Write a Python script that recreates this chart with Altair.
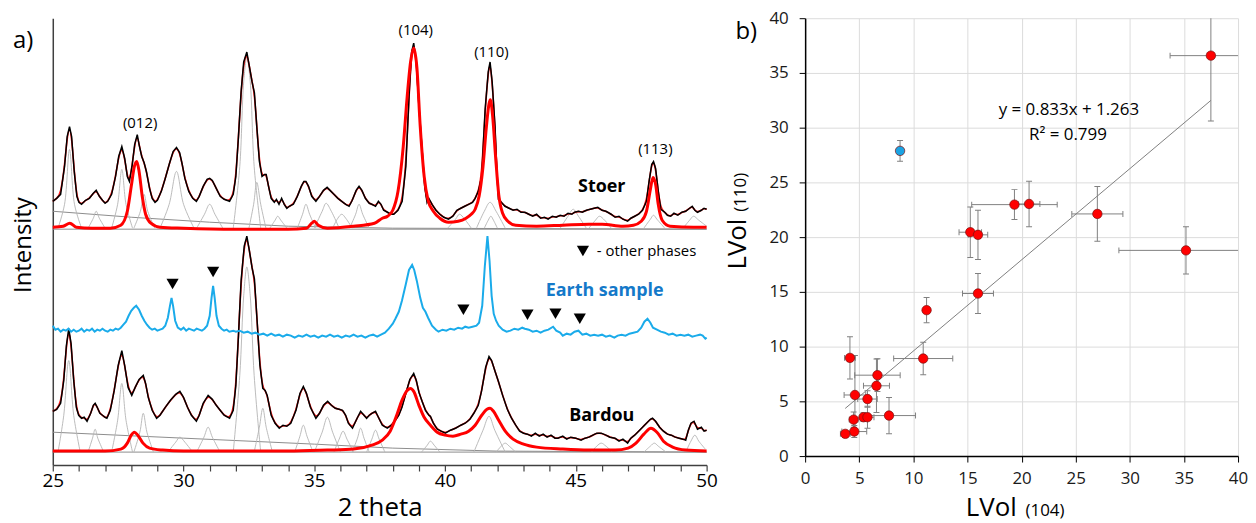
import altair as alt
import pandas as pd

FONT = "Open Sans"

# ---------------- panel a) : XRD patterns (2 theta, intensity in arbitrary units) ----------------
STOER = [(25.00, 265), (25.15, 268), (25.30, 272), (25.45, 300), (25.55, 330), (25.64, 340), (25.72, 330),
         (25.82, 295), (25.92, 270), (26.00, 264), (26.10, 262), (26.25, 266), (26.40, 268), (26.55, 273),
         (26.66, 276), (26.78, 270), (26.90, 266), (27.00, 263), (27.10, 265), (27.25, 272), (27.40, 290),
         (27.52, 310), (27.64, 320), (27.75, 308), (27.85, 290), (27.93, 285), (28.03, 300), (28.13, 322),
         (28.23, 332), (28.30, 322), (28.40, 310), (28.49, 304), (28.58, 295), (28.70, 278), (28.80, 268),
         (28.91, 264), (29.00, 266), (29.15, 275), (29.30, 288), (29.45, 302), (29.60, 315), (29.73, 319),
         (29.85, 314), (29.95, 302), (30.05, 288), (30.20, 275), (30.35, 268), (30.49, 265), (30.60, 270),
         (30.75, 280), (30.90, 287), (31.00, 288), (31.10, 286), (31.25, 278), (31.40, 270), (31.55, 267),
         (31.76, 265), (31.90, 272), (32.00, 290), (32.10, 330), (32.20, 375), (32.30, 405), (32.42, 415),
         (32.52, 400), (32.62, 385), (32.71, 374), (32.80, 340), (32.90, 305), (33.00, 290), (33.10, 292),
         (33.16, 292), (33.25, 280), (33.35, 268), (33.47, 264), (33.55, 267), (33.65, 262), (33.75, 268),
         (33.85, 262), (33.95, 258), (34.04, 260), (34.20, 262), (34.35, 270), (34.50, 280), (34.60, 285),
         (34.68, 285), (34.78, 280), (34.90, 270), (35.06, 265), (35.20, 270), (35.35, 276), (35.49, 279),
         (35.60, 276), (35.75, 272), (35.90, 268), (36.05, 265), (36.20, 262), (36.33, 260), (36.45, 266),
         (36.60, 276), (36.71, 280), (36.82, 276), (36.95, 268), (37.10, 263), (37.20, 262), (37.34, 260),
         (37.45, 265), (37.55, 262), (37.65, 256), (37.80, 254), (37.92, 252), (38.04, 252), (38.20, 256),
         (38.36, 265), (38.50, 300), (38.62, 370), (38.72, 415), (38.80, 424), (38.90, 405), (39.00, 360),
         (39.12, 317), (39.22, 280), (39.31, 264), (39.38, 268), (39.50, 262), (39.65, 256), (39.80, 252),
         (39.95, 249), (40.13, 247), (40.30, 250), (40.45, 256), (40.60, 258), (40.75, 260), (40.90, 262),
         (41.05, 264), (41.15, 268), (41.27, 275), (41.40, 290), (41.53, 357), (41.65, 395), (41.72, 405),
         (41.80, 385), (41.91, 340), (41.98, 295), (42.04, 267), (42.15, 264), (42.29, 260), (42.45, 258),
         (42.60, 256), (42.75, 257), (42.90, 254), (43.05, 254), (43.20, 252), (43.35, 250), (43.50, 252),
         (43.65, 248), (43.80, 249), (43.94, 247), (44.10, 250), (44.25, 249), (44.40, 251), (44.55, 250),
         (44.70, 253), (44.85, 252), (44.95, 254), (45.10, 255), (45.25, 254), (45.40, 256), (45.55, 257),
         (45.70, 258), (45.84, 259), (46.00, 256), (46.15, 255), (46.35, 252), (46.50, 249), (46.65, 250),
         (46.80, 247), (46.98, 245), (47.10, 248), (47.25, 250), (47.40, 252), (47.55, 256), (47.70, 265),
         (47.80, 285), (47.90, 302), (47.97, 305), (48.05, 298), (48.15, 275), (48.25, 257), (48.40, 254),
         (48.50, 251), (48.63, 250), (48.75, 253), (48.90, 251), (49.05, 254), (49.20, 255), (49.35, 258),
         (49.45, 260), (49.55, 256), (49.65, 254), (49.80, 256), (49.90, 258), (50.00, 257)]

STOER_CALCITE = [(25.0, 239), (25.4, 240), (25.65, 243), (25.9, 239), (26.5, 238), (27.2, 238), (27.6, 241),
                 (27.85, 255), (28.0, 280), (28.12, 300), (28.21, 305), (28.3, 295), (28.42, 270), (28.55, 252),
                 (28.75, 243), (29.1, 239), (30.0, 238), (32.0, 237), (34.0, 237), (34.7, 238), (34.9, 243),
                 (35.0, 245), (35.15, 241), (35.5, 238), (36.5, 240), (37.3, 243), (37.6, 248), (37.8, 250),
                 (38.0, 256), (38.2, 275), (38.4, 320), (38.55, 370), (38.68, 405), (38.8, 419), (38.92, 400),
                 (39.05, 340), (39.2, 290), (39.35, 266), (39.55, 255), (39.8, 248), (40.13, 244), (40.5, 245),
                 (40.8, 248), (41.0, 252), (41.15, 257), (41.3, 270), (41.45, 300), (41.58, 340), (41.68, 363),
                 (41.73, 367), (41.82, 350), (41.93, 310), (42.05, 272), (42.2, 253), (42.4, 245), (42.7, 241),
                 (43.5, 240), (44.5, 241), (45.5, 242), (46.0, 242), (46.8, 240), (47.2, 241), (47.5, 245),
                 (47.7, 255), (47.85, 277), (47.95, 289), (48.05, 282), (48.15, 262), (48.3, 246), (48.6, 240),
                 (49.5, 239), (50.0, 239)]

STOER_BACKGROUND = [[(25, 255), (28, 249), (31, 244), (34, 240), (38, 238), (50, 237)],
                    [(25, 237), (50, 237)]]

STOER_COMPONENTS = [
    [(25.2, 238), (25.45, 262), (25.64, 317), (25.83, 262), (26.1, 238)],
    [(26.35, 238), (26.55, 248), (26.66, 255), (26.78, 248), (27.0, 238)],
    [(27.25, 238), (27.48, 262), (27.64, 297), (27.8, 262), (28.05, 238)],
    [(28.1, 238), (28.35, 255), (28.49, 272), (28.63, 255), (28.9, 238)],
    [(29.1, 238), (29.45, 262), (29.73, 295), (30.0, 262), (30.4, 238)],
    [(30.5, 238), (30.8, 252), (31.0, 262), (31.2, 252), (31.5, 238)],
    [(31.9, 238), (32.15, 300), (32.3, 385), (32.42, 410), (32.55, 385), (32.7, 300), (32.95, 238)],
    [(32.5, 238), (32.68, 262), (32.8, 284), (32.95, 262), (33.15, 238)],
    [(33.3, 238), (33.5, 246), (33.6, 250), (33.72, 246), (33.95, 238)],
    [(34.35, 238), (34.55, 252), (34.68, 262), (34.82, 252), (35.05, 238)],
    [(35.0, 238), (35.3, 255), (35.45, 263), (35.65, 255), (35.95, 238)],
    [(35.7, 238), (35.9, 248), (36.05, 252), (36.2, 248), (36.45, 238)],
    [(36.35, 238), (36.58, 252), (36.71, 262), (36.85, 252), (37.1, 238)],
    [(40.1, 238), (40.4, 247), (40.55, 252), (40.75, 247), (41.0, 238)],
    [(41.2, 238), (41.5, 255), (41.72, 264), (41.95, 255), (42.3, 238)],
    [(41.5, 238), (41.65, 246), (41.75, 250), (41.85, 246), (42.0, 238)],
    [(44.4, 238), (44.7, 250), (44.9, 257), (45.1, 250), (45.4, 238)],
    [(45.5, 238), (45.75, 246), (45.9, 250), (46.1, 246), (46.35, 238)],
    [(47.6, 238), (47.85, 247), (47.97, 251), (48.1, 247), (48.4, 238)],
    [(49.1, 238), (49.35, 246), (49.5, 250), (49.7, 246), (50.0, 240)],
]

EARTH = [(25.0, 140), (25.1, 136), (25.2, 137), (25.3, 134), (25.4, 136), (25.5, 135), (25.6, 137), (25.7, 134),
         (25.8, 136), (25.9, 134), (26.0, 135), (26.1, 137), (26.2, 134), (26.3, 136), (26.4, 135), (26.5, 137),
         (26.6, 134), (26.7, 136), (26.8, 135), (26.9, 137), (27.0, 135), (27.1, 134), (27.2, 136), (27.3, 135),
         (27.4, 137), (27.5, 136), (27.6, 138), (27.7, 141), (27.8, 144), (27.9, 150), (28.0, 155), (28.1, 158),
         (28.19, 160), (28.3, 156), (28.4, 150), (28.5, 145), (28.6, 141), (28.7, 138), (28.8, 136), (28.9, 137),
         (29.0, 135), (29.1, 136), (29.2, 137), (29.3, 140), (29.4, 148), (29.48, 160), (29.54, 168), (29.6, 160),
         (29.68, 145), (29.78, 138), (29.9, 136), (30.0, 138), (30.1, 135), (30.2, 137), (30.3, 136), (30.4, 135),
         (30.5, 137), (30.6, 136), (30.7, 135), (30.8, 137), (30.9, 140), (31.0, 150), (31.07, 168), (31.13, 180),
         (31.19, 168), (31.26, 150), (31.35, 140), (31.45, 137), (31.55, 135), (31.65, 136), (31.75, 134),
         (31.9, 135), (32.0, 134), (32.15, 135), (32.3, 133), (32.45, 134), (32.6, 132), (32.75, 133), (32.9, 131),
         (33.05, 132), (33.2, 130), (33.35, 132), (33.5, 130), (33.65, 131), (33.8, 129), (33.95, 131), (34.1, 130),
         (34.25, 128), (34.4, 130), (34.55, 129), (34.7, 131), (34.85, 129), (35.0, 130), (35.15, 128), (35.3, 130),
         (35.45, 129), (35.6, 131), (35.75, 129), (35.9, 130), (36.05, 128), (36.2, 130), (36.35, 129), (36.5, 131),
         (36.65, 129), (36.8, 130), (36.95, 128), (37.1, 130), (37.25, 131), (37.4, 129), (37.55, 131), (37.7, 133),
         (37.85, 137), (38.0, 142), (38.1, 147), (38.23, 154), (38.35, 165), (38.5, 182), (38.62, 196), (38.74, 201),
         (38.82, 196), (38.92, 185), (39.05, 168), (39.15, 158), (39.25, 154), (39.35, 148), (39.5, 140), (39.65, 136),
         (39.75, 134), (39.9, 136), (40.05, 135), (40.2, 137), (40.35, 136), (40.5, 138), (40.65, 137), (40.77, 139),
         (40.9, 138), (41.05, 139), (41.2, 140), (41.3, 143), (41.42, 160), (41.52, 200), (41.62, 230), (41.7, 205),
         (41.78, 170), (41.86, 152), (41.95, 145), (42.05, 140), (42.2, 136), (42.35, 134), (42.5, 135), (42.65, 137),
         (42.8, 136), (42.95, 138), (43.05, 137), (43.2, 136), (43.35, 134), (43.5, 135), (43.65, 133), (43.8, 135),
         (43.95, 136), (44.13, 139), (44.25, 135), (44.4, 133), (44.5, 130), (44.65, 132), (44.8, 131), (44.95, 134),
         (45.1, 135), (45.25, 131), (45.4, 132), (45.55, 130), (45.7, 131), (45.85, 130), (46.0, 131), (46.15, 129),
         (46.3, 130), (46.47, 128), (46.6, 130), (46.75, 131), (46.9, 130), (47.05, 132), (47.2, 133), (47.36, 134),
         (47.5, 138), (47.62, 144), (47.74, 147), (47.85, 143), (47.95, 138), (48.1, 136), (48.25, 134), (48.4, 133),
         (48.55, 131), (48.7, 132), (48.85, 130), (49.0, 131), (49.15, 130), (49.3, 131), (49.45, 129), (49.6, 130),
         (49.75, 131), (49.85, 130), (49.95, 127), (50.0, 128)]

BARDOU = [(25.0, 54), (25.15, 56), (25.3, 62), (25.42, 85), (25.52, 120), (25.61, 137), (25.7, 122), (25.8, 85),
          (25.9, 58), (25.99, 50), (26.1, 47), (26.2, 48), (26.31, 44), (26.45, 52), (26.55, 60), (26.62, 62),
          (26.7, 58), (26.8, 52), (26.9, 50), (27.0, 48), (27.07, 47), (27.2, 55), (27.35, 75), (27.5, 100),
          (27.64, 115), (27.75, 100), (27.88, 78), (28.02, 70), (28.15, 78), (28.3, 86), (28.46, 90), (28.55, 82),
          (28.65, 68), (28.8, 55), (28.97, 47), (29.1, 50), (29.3, 58), (29.5, 65), (29.7, 71), (29.86, 74),
          (30.0, 68), (30.15, 58), (30.3, 50), (30.49, 44), (30.6, 50), (30.75, 62), (30.94, 70), (31.1, 66),
          (31.25, 60), (31.4, 55), (31.55, 50), (31.76, 47), (31.9, 55), (32.0, 80), (32.1, 130), (32.2, 185),
          (32.32, 220), (32.42, 230), (32.52, 215), (32.62, 198), (32.71, 187), (32.8, 150), (32.92, 100),
          (33.03, 77), (33.12, 75), (33.2, 70), (33.35, 50), (33.5, 42), (33.66, 37), (33.8, 40), (33.95, 39),
          (34.1, 42), (34.3, 55), (34.45, 72), (34.58, 79), (34.7, 72), (34.85, 58), (35.06, 47), (35.2, 52),
          (35.35, 60), (35.51, 64), (35.65, 60), (35.8, 57), (35.95, 56), (36.08, 55), (36.2, 50), (36.3, 42),
          (36.46, 37), (36.6, 45), (36.77, 54), (36.9, 50), (37.0, 47), (37.1, 50), (37.2, 52), (37.34, 54),
          (37.45, 48), (37.6, 40), (37.79, 37), (37.95, 40), (38.1, 45), (38.23, 50), (38.35, 58), (38.5, 72),
          (38.65, 86), (38.8, 92), (38.9, 85), (39.0, 73), (39.12, 64), (39.25, 55), (39.38, 50), (39.44, 49),
          (39.55, 42), (39.7, 36), (39.85, 34), (40.01, 32), (40.2, 35), (40.4, 37), (40.6, 40), (40.77, 42),
          (40.95, 46), (41.1, 52), (41.27, 60), (41.4, 75), (41.55, 98), (41.68, 109), (41.78, 105), (41.9, 95),
          (42.04, 84), (42.2, 70), (42.38, 56), (42.54, 47), (42.7, 40), (42.85, 34), (43.0, 32), (43.15, 31),
          (43.3, 29), (43.45, 32), (43.6, 29), (43.75, 31), (43.9, 28), (44.05, 30), (44.2, 27), (44.32, 27),
          (44.5, 29), (44.65, 26), (44.8, 28), (45.0, 27), (45.2, 25), (45.35, 27), (45.5, 28), (45.65, 30),
          (45.8, 32), (45.97, 32), (46.15, 30), (46.3, 28), (46.5, 27), (46.65, 24), (46.8, 26), (46.98, 22),
          (47.1, 27), (47.25, 30), (47.4, 34), (47.55, 38), (47.7, 42), (47.85, 46), (47.93, 47), (48.05, 44),
          (48.2, 38), (48.35, 34), (48.5, 31), (48.65, 30), (48.8, 28), (48.95, 27), (49.1, 26), (49.2, 25),
          (49.3, 35), (49.4, 42), (49.52, 44), (49.65, 36), (49.8, 38), (49.9, 34), (50.0, 35)]

BARDOU_CALCITE = [(25.0, 14), (26.0, 14), (27.0, 14), (27.6, 16), (27.85, 22), (28.0, 30), (28.12, 33),
                  (28.25, 30), (28.45, 22), (28.7, 17), (29.2, 15), (30.0, 14), (32.0, 14), (34.0, 14),
                  (35.5, 15), (36.5, 16), (37.2, 20), (37.6, 25), (37.9, 34), (38.15, 50), (38.35, 65),
                  (38.55, 75), (38.68, 77), (38.8, 74), (39.0, 60), (39.2, 48), (39.44, 40), (39.7, 33),
                  (40.0, 30), (40.3, 29), (40.6, 31), (40.9, 34), (41.15, 40), (41.4, 50), (41.6, 56),
                  (41.72, 57), (41.85, 54), (42.05, 45), (42.3, 34), (42.6, 26), (43.0, 21), (43.5, 18),
                  (44.5, 16), (45.5, 15), (46.5, 15), (47.0, 17), (47.3, 22), (47.6, 31), (47.87, 37),
                  (48.1, 33), (48.35, 24), (48.7, 18), (49.2, 15), (50.0, 14)]

BARDOU_BACKGROUND = [[(25, 33), (30, 27), (35, 21), (38, 17), (42, 14), (50, 13)],
                     [(25, 13), (50, 13)]]

BARDOU_COMPONENTS = [
    [(25.2, 13), (25.42, 50), (25.61, 105), (25.8, 50), (26.05, 13)],
    [(26.35, 13), (26.52, 27), (26.62, 36), (26.72, 27), (26.95, 13)],
    [(27.25, 13), (27.48, 45), (27.64, 82), (27.8, 45), (28.05, 13)],
    [(28.1, 13), (28.33, 33), (28.46, 52), (28.6, 33), (28.85, 13)],
    [(29.4, 13), (29.7, 23), (29.86, 28), (30.05, 23), (30.35, 13)],
    [(30.5, 13), (30.78, 28), (30.94, 38), (31.1, 28), (31.4, 13)],
    [(31.9, 13), (32.15, 90), (32.3, 170), (32.42, 199), (32.55, 170), (32.7, 90), (32.95, 13)],
    [(32.7, 13), (32.9, 38), (33.03, 57), (33.16, 38), (33.4, 13)],
    [(34.25, 13), (34.45, 29), (34.58, 40), (34.72, 29), (34.95, 13)],
    [(35.0, 13), (35.3, 33), (35.5, 48), (35.7, 33), (36.0, 13)],
    [(35.75, 13), (35.95, 26), (36.1, 34), (36.25, 26), (36.5, 13)],
    [(36.45, 13), (36.65, 27), (36.77, 37), (36.9, 27), (37.1, 13)],
    [(37.0, 13), (37.2, 26), (37.34, 35), (37.48, 26), (37.7, 13)],
    [(39.1, 13), (39.32, 20), (39.44, 24), (39.58, 20), (39.8, 13)],
    [(41.1, 13), (41.45, 35), (41.68, 49), (41.9, 35), (42.3, 13)],
    [(41.95, 13), (42.15, 19), (42.3, 22), (42.45, 19), (42.7, 13)],
    [(45.6, 13), (45.8, 19), (45.97, 22), (46.15, 19), (46.4, 13)],
    [(47.6, 13), (47.85, 19), (48.0, 22), (48.15, 19), (48.45, 13)],
    [(49.2, 13), (49.4, 24), (49.55, 30), (49.7, 24), (49.95, 16)],
]

MARKER_THETA = [29.58, 31.13, 40.70, 43.15, 44.22, 45.15, 45.27]
MARKER_INT = [182, 194, 156, 151, 152, 147, 215]

HKL_TEXT = ["(012)", "(104)", "(110)", "(113)", "- other phases"]
HKL_THETA = [28.34, 38.88, 41.77, 48.04, 45.8]
HKL_INT = [344, 437, 415, 318, 215]
HKL_ALIGN = ["center", "center", "center", "center", "left"]

SAMPLE_TEXT = ["Stoer", "Earth sample", "Bardou"]
SAMPLE_THETA = [45.99, 46.10, 45.99]
SAMPLE_INT = [279, 175, 49]
SAMPLE_COLOR = ["#000000", "#1479C9", "#000000"]

# ---------------- panel b) : LVol(110) vs LVol(104) ----------------
LV104 = [8.77, 37.49, 15.26, 15.97, 19.34, 20.69, 27.00, 35.19, 15.97, 11.22, 10.91, 4.14, 6.68, 6.59,
         4.60, 5.76, 4.48, 5.39, 5.76, 7.75, 4.54, 3.71]
LV110 = [27.88, 36.58, 20.45, 20.21, 22.97, 23.03, 22.12, 18.79, 14.85, 13.33, 8.91, 8.97, 7.39, 6.42,
         5.58, 5.21, 3.33, 3.55, 3.55, 3.70, 2.24, 2.03]
ERR104 = [0.0, 3.77, 1.04, 0.90, 3.95, 1.00, 2.36, 6.20, 1.43, 0.0, 2.73, 0.50, 2.10, 1.20,
          1.00, 0.90, 0.40, 0.30, 0.60, 2.45, 1.15, 0.45]
ERR110 = [0.95, 5.98, 2.30, 2.25, 1.37, 2.08, 2.50, 2.15, 1.82, 1.15, 1.48, 1.92, 1.50, 2.45,
          3.60, 0.76, 0.70, 0.40, 1.00, 1.65, 0.55, 0.20]
GROUP = ["Earth"] + ["Sample"] * 21

FIT_X = [3.7, 37.5]
FIT_Y = [4.35, 32.5]
EQ_TEXT = ["y = 0.833x + 1.263", "R² = 0.799"]
EQ_X = [24.37, 24.28]
EQ_Y = [31.57, 29.30]


def curve(pairs, name):
    return pd.DataFrame(pairs, columns=["theta", "intensity"]).assign(series=name)


def comps(list_of_pairs, prefix):
    return pd.concat([curve(p, f"{prefix}{i}") for i, p in enumerate(list_of_pairs)], ignore_index=True)


gray_df = pd.concat([comps(STOER_COMPONENTS, "s"), comps(BARDOU_COMPONENTS, "b")], ignore_index=True)
bg_df = pd.concat([comps(STOER_BACKGROUND, "sb"), comps(BARDOU_BACKGROUND, "bb")], ignore_index=True)
data_df = pd.concat([curve(STOER, "Stoer"), curve(BARDOU, "Bardou")], ignore_index=True)
calc_df = pd.concat([curve(STOER_CALCITE, "Stoer"), curve(BARDOU_CALCITE, "Bardou")], ignore_index=True)
earth_df = curve(EARTH, "Earth")
marker_df = pd.DataFrame({"theta": MARKER_THETA, "intensity": MARKER_INT})
hkl_df = pd.DataFrame({"theta": HKL_THETA, "intensity": HKL_INT, "label": HKL_TEXT, "align": HKL_ALIGN})
sample_df = pd.DataFrame({"theta": SAMPLE_THETA, "intensity": SAMPLE_INT, "label": SAMPLE_TEXT,
                          "color": SAMPLE_COLOR})

x_axis_a = alt.Axis(values=list(range(25, 51)), labelExpr="datum.value % 5 == 0 ? datum.label : ''",
                    labelOverlap=False, labelFlush=False, tickSize=6, tickColor="#404040",
                    domainColor="#404040", domainWidth=1.5, tickWidth=1.2, labelFontSize=19, labelFont=FONT,
                    labelColor="#000000", labelPadding=1, grid=False, title="2 theta", titleFontSize=26,
                    titleFont=FONT, titleFontWeight="normal", titleColor="#000000", titlePadding=4)
y_axis_a = alt.Axis(labels=False, ticks=False, grid=False, domainColor="#404040", domainWidth=1.5, title=None)

X_A = alt.X("theta:Q", scale=alt.Scale(domain=[25, 50], nice=False, zero=False), axis=x_axis_a)
Y_A = alt.Y("intensity:Q", scale=alt.Scale(domain=[0, 449], nice=False, zero=False), axis=y_axis_a)

bg_layer = alt.Chart(bg_df).mark_line(color="#8C8C8C", strokeWidth=1).encode(X_A, Y_A, detail="series:N")
gray_layer = alt.Chart(gray_df).mark_line(color="#B4B4B4", strokeWidth=0.9, interpolate="catmull-rom").encode(
    X_A, Y_A, detail="series:N")
fit_layer = alt.Chart(data_df).mark_line(color="#FF1A1A", strokeWidth=1.6, interpolate="basis").encode(
    X_A, Y_A, detail="series:N")
data_layer = alt.Chart(data_df).mark_line(color="#000000", strokeWidth=1.5).encode(X_A, Y_A, detail="series:N")
calc_layer = alt.Chart(calc_df).mark_line(color="#FF0000", strokeWidth=3, interpolate="monotone").encode(
    X_A, Y_A, detail="series:N")
earth_layer = alt.Chart(earth_df).mark_line(color="#1AABEA", strokeWidth=2).encode(X_A, Y_A)
marker_layer = alt.Chart(marker_df).mark_point(shape="triangle-down", filled=True, color="#000000",
                                               size=150, opacity=1).encode(X_A, Y_A)
hkl_c = alt.Chart(hkl_df[hkl_df["align"] == "center"]).mark_text(
    font=FONT, fontSize=15, color="#000000", align="center", baseline="middle").encode(X_A, Y_A, text="label:N")
hkl_l = alt.Chart(hkl_df[hkl_df["align"] == "left"]).mark_text(
    font=FONT, fontSize=15, color="#000000", align="left", baseline="middle").encode(X_A, Y_A, text="label:N")
sample_layer = alt.Chart(sample_df).mark_text(
    font=FONT, fontSize=18, fontWeight="bold", align="center", baseline="middle").encode(
    X_A, Y_A, text="label:N", color=alt.Color("color:N", scale=None))
a_label = alt.Chart(pd.DataFrame({"t": ["a)"]})).mark_text(
    font=FONT, fontSize=24, align="left", baseline="alphabetic", color="#000000").encode(
    x=alt.value(-40), y=alt.value(30), text="t:N")
int_title = alt.Chart(pd.DataFrame({"t": ["Intensity"]})).mark_text(
    font=FONT, fontSize=24, angle=270, align="center", baseline="alphabetic", color="#000000").encode(
    x=alt.value(-22), y=alt.value(228), text="t:N")

panel_a = alt.layer(bg_layer, gray_layer, fit_layer, data_layer, calc_layer, earth_layer, marker_layer,
                    hkl_c, hkl_l, sample_layer, a_label, int_title).properties(width=657, height=449)

# ---------------- panel b ----------------
pts = pd.DataFrame({"x": LV104, "y": LV110, "xerr": ERR104, "yerr": ERR110, "grp": GROUP})
ycaps = pd.concat([pts.assign(cy=pts["y"] - pts["yerr"]), pts.assign(cy=pts["y"] + pts["yerr"])])
xcaps = pts[pts["xerr"] > 0]
xcaps = pd.concat([xcaps.assign(cx=xcaps["x"] - xcaps["xerr"]), xcaps.assign(cx=xcaps["x"] + xcaps["xerr"])])
fit_df = pd.DataFrame({"x": FIT_X, "y": FIT_Y})
eq_df = pd.DataFrame({"x": EQ_X, "y": EQ_Y, "t": EQ_TEXT})

SC_B = alt.Scale(domain=[0, 40], nice=False, zero=True)
x_axis_b = alt.Axis(values=list(range(0, 41, 5)), grid=True, gridColor="#DCDCDC", tickSize=6, tickColor="#000000",
                    domainColor="#000000", domainWidth=1.5, labelFontSize=17, labelFont=FONT, labelColor="#1A1A1A",
                    labelPadding=9, labelFlush=False, title=None)
y_axis_b = alt.Axis(values=list(range(0, 41, 5)), grid=True, gridColor="#DCDCDC", tickSize=6, tickColor="#000000",
                    domainColor="#000000", domainWidth=1.5, labelFontSize=17, labelFont=FONT, labelColor="#1A1A1A",
                    labelPadding=11, labelFlush=False, title=None)
XB = lambda f: alt.X(f, scale=SC_B, axis=x_axis_b)
YB = lambda f: alt.Y(f, scale=SC_B, axis=y_axis_b)
ERRC = "#808080"

xrule = alt.Chart(pts).transform_filter("datum.xerr > 0").transform_calculate(
    xlo="datum.x - datum.xerr", xhi="datum.x + datum.xerr").mark_rule(color=ERRC, strokeWidth=1, clip=True).encode(
    XB("xlo:Q"), x2="xhi:Q", y=YB("y:Q"))
yrule = alt.Chart(pts).transform_calculate(
    ylo="datum.y - datum.yerr", yhi="datum.y + datum.yerr").mark_rule(color=ERRC, strokeWidth=1, clip=True).encode(
    XB("x:Q"), y=YB("ylo:Q"), y2="yhi:Q")
ycap = alt.Chart(ycaps).mark_tick(orient="horizontal", size=6, thickness=1, color=ERRC, opacity=1, clip=True).encode(
    XB("x:Q"), YB("cy:Q"))
xcap = alt.Chart(xcaps).mark_tick(orient="vertical", size=6, thickness=1, color=ERRC, opacity=1, clip=True).encode(
    XB("cx:Q"), YB("y:Q"))
fit_line = alt.Chart(fit_df).mark_line(color="#7F7F7F", strokeWidth=1).encode(XB("x:Q"), YB("y:Q"))
points = alt.Chart(pts).mark_circle(size=90, opacity=1, stroke="#7A1010", strokeWidth=0.7).encode(
    XB("x:Q"), YB("y:Q"),
    color=alt.Color("grp:N", scale=alt.Scale(domain=["Sample", "Earth"], range=["#FF0000", "#1BA3E3"]), legend=None))
eq_text = alt.Chart(eq_df).mark_text(font=FONT, fontSize=17, color="#000000", align="center",
                                     baseline="middle").encode(XB("x:Q"), YB("y:Q"), text="t:N")


def label(txt, size, x, y, angle=0):
    return alt.Chart(pd.DataFrame({"t": [txt]})).mark_text(
        font=FONT, fontSize=size, angle=angle, align="center", baseline="alphabetic", color="#000000").encode(
        x=alt.value(x), y=alt.value(y), text="t:N")


b_label = alt.Chart(pd.DataFrame({"t": ["b)"]})).mark_text(
    font=FONT, fontSize=24, align="left", baseline="alphabetic", color="#000000").encode(
    x=alt.value(-70), y=alt.value(21), text="t:N")

panel_b = alt.layer(xrule, yrule, ycap, xcap, fit_line, points, eq_text,
                    label("LVol", 26, 187, 500), label("(104)", 17, 241, 500),
                    label("LVol", 26, -59, 227, 270), label("(110)", 17, -59, 175, 270),
                    b_label).properties(width=435, height=440)

chart = alt.hconcat(panel_a, panel_b, spacing=8).properties(
    padding={"left": 4, "top": 0, "right": 0, "bottom": 0}
).configure_view(stroke=None)

chart.save("out.html", embed_options={"renderer": "svg", "actions": False})
